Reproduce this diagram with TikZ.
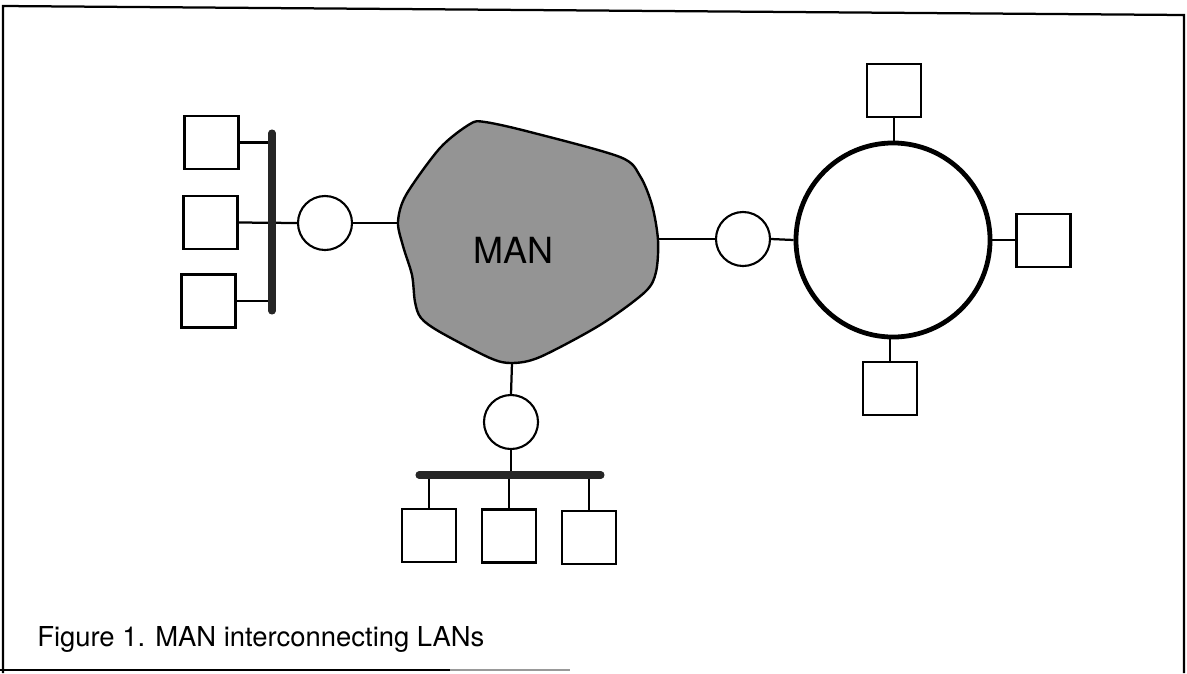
\documentclass[tikz,border=0pt]{standalone}
\usepackage{fontspec}
\setmainfont{TeX Gyre Heros}
\begin{document}
\begin{tikzpicture}[x=0.025cm,y=-0.025cm,
  wire/.style={line width=1.6pt},
  station/.style={draw, line width=1.6pt, minimum width=1.35cm, minimum height=1.32cm, inner sep=0pt},
  bridge/.style={draw, circle, line width=1.5pt, minimum size=1.35cm, inner sep=0pt},
  busline/.style={line width=5pt, line cap=round, draw=black!85},
  ringnet/.style={draw, circle, line width=3.4pt, minimum size=4.85cm, inner sep=0pt},
]
\useasboundingbox (0,0) rectangle (1187,673);

% page frame
\draw[line width=1.6pt] (3,673) -- (3,6) -- (1184,15) -- (1184,673);
\draw[line width=1.8pt] (0,670) -- (450,670);
\draw[line width=1.2pt, black!40] (450,670) -- (570,670);

% the metropolitan area network cloud
\path[draw, line width=1.7pt, fill=black!42] plot[smooth cycle, tension=0.5] coordinates {
  (398,222) (406,195) (440,148) (470,124) (485,122) (530,132) (620,157)
  (640,176) (652,205) (658,240) (656,272) (645,292) (600,325) (540,357)
  (512,363) (490,358) (440,332) (421,318) (415,302) (412,275) (403,246)};
\coordinate (manW) at (398,223);
\coordinate (manE) at (658,239);
\coordinate (manS) at (512,363);
\node[font=\fontsize{25.6}{30}\selectfont, inner sep=0pt] (manlabel) at (513,250) {MAN};

% left LAN: vertical bus
\coordinate (busLt) at (272,133);
\coordinate (busLb) at (272,311);
\node[station] (sqL1) at (211.5,142.5) {};
\node[station] (sqL2) at (210.5,222.5) {};
\node[station] (sqL3) at (208.5,301) {};
\node[bridge]  (cL)   at (325,223) {};
\draw[wire] (sqL1.east) -- (sqL1.east -| busLt);
\draw[wire] (sqL2.east) -- (cL.west);
\draw[wire] (sqL3.east) -- (sqL3.east -| busLt);
\draw[wire] (cL.east) -- (manW);
\draw[busline] (busLt) -- (busLb);

% right LAN: ring
\node[bridge]  (cR)   at (743,239) {};
\node[ringnet] (ring) at (893,240) {};
\node[station] (sqRt) at (894,90.5) {};
\node[station] (sqRr) at (1043.5,240.5) {};
\node[station] (sqRb) at (890,388.5) {};
\draw[wire] (manE) -- (cR.west);
\draw[wire] (cR.east) -- (ring.west);
\draw[wire] (sqRt.south) -- (sqRt.south |- ring.north);
\draw[wire] (ring.east) -- (ring.east -| sqRr.west);
\draw[wire] (sqRb.north) -- (sqRb.north |- ring.south);

% bottom LAN: horizontal bus
\coordinate (busBl) at (419,475);
\coordinate (busBr) at (601,475);
\node[bridge]  (cB)   at (511,422) {};
\node[station] (sqB1) at (429,535.5) {};
\node[station] (sqB2) at (509,536) {};
\node[station] (sqB3) at (589,537.5) {};
\draw[wire] (manS) -- (cB.north);
\draw[wire] (cB.south) -- (cB.south |- busBl);
\draw[wire] (sqB1.north) -- (sqB1.north |- busBl);
\draw[wire] (sqB2.north) -- (sqB2.north |- busBl);
\draw[wire] (sqB3.north) -- (sqB3.north |- busBl);
\draw[busline] (busBl) -- (busBr);

% caption
\node[anchor=base west, font=\fontsize{19.5}{23}\selectfont, inner sep=0pt] (caption) at (37,646) {Figure 1. MAN interconnecting LANs};
\end{tikzpicture}
\end{document}
